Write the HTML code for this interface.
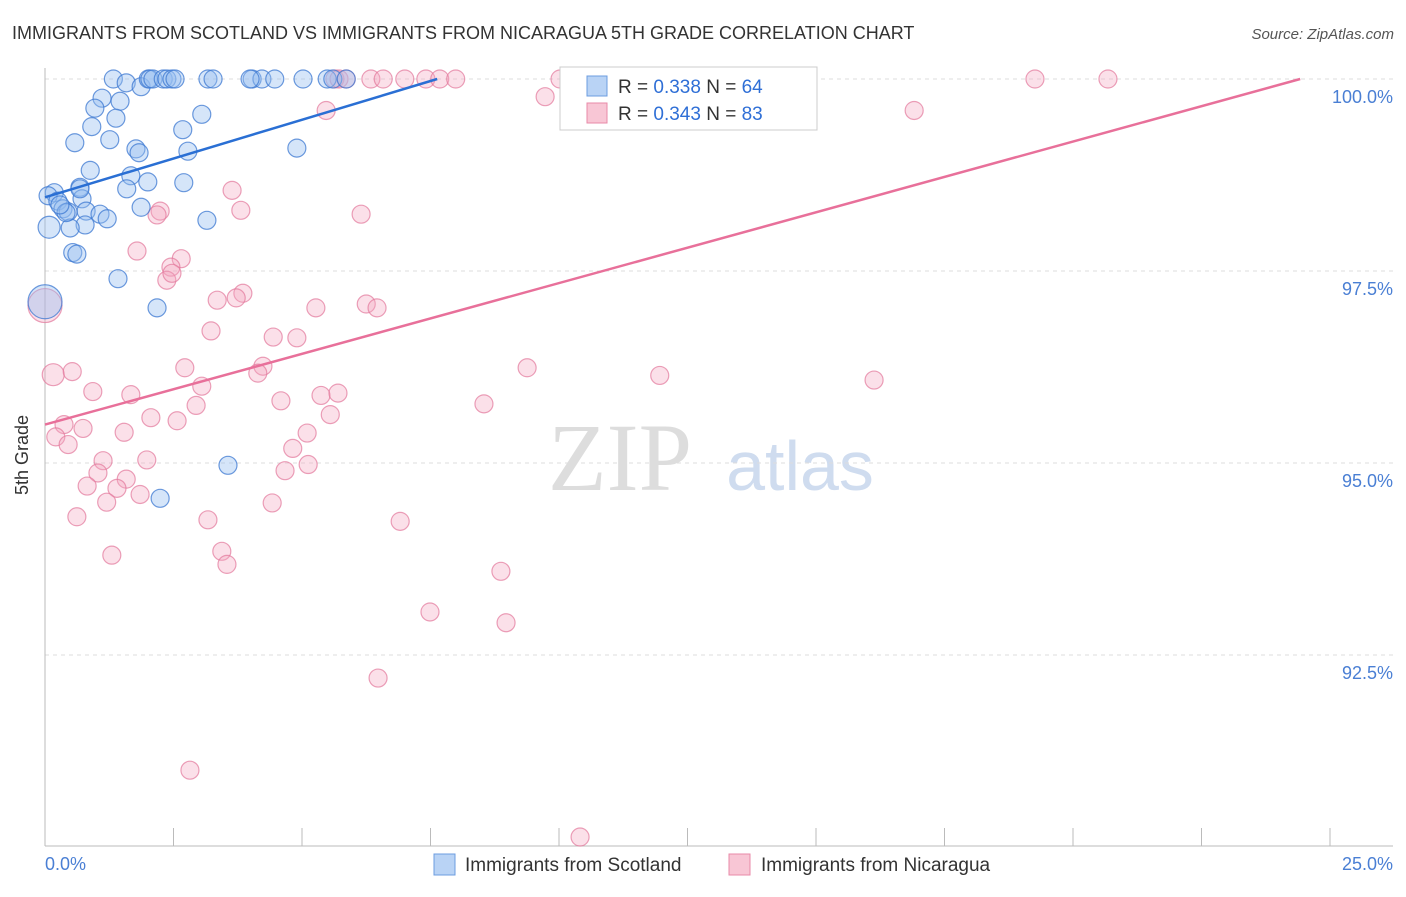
<!DOCTYPE html>
<html><head><meta charset="utf-8"><style>
body{margin:0;background:#fff;font-family:"Liberation Sans",sans-serif;}
</style></head><body>
<svg width="1406" height="892" viewBox="0 0 1406 892" xmlns="http://www.w3.org/2000/svg">
<text x="12" y="39" font-size="18" fill="#333">IMMIGRANTS FROM SCOTLAND VS IMMIGRANTS FROM NICARAGUA 5TH GRADE CORRELATION CHART</text>
<text x="1394" y="39" font-size="15" fill="#555" text-anchor="end" font-style="italic">Source: ZipAtlas.com</text>
<text x="620" y="490" font-size="96" fill="#ddd" font-family="Liberation Serif" text-anchor="middle">ZIP</text>
<text x="800" y="490" font-size="70" fill="#cfdcef" text-anchor="middle">atlas</text>
<g id="grid"></g>
<line x1="45" y1="68" x2="45" y2="846" stroke="#bbb"/>
<line x1="45" y1="846" x2="1393" y2="846" stroke="#bbb"/>
<text x="28" y="455" font-size="18" fill="#333" transform="rotate(-90 28 455)" text-anchor="middle">5th Grade</text>
<text x="45" y="870" font-size="18" fill="#4a7fd4">0.0%</text>
<text x="1393" y="870" font-size="18" fill="#4a7fd4" text-anchor="end">25.0%</text>
<g id="pts"></g>
<g id="lines"></g>
<g>
<rect x="560" y="67" width="257" height="63" fill="#fff" stroke="#ccc"/>
<rect x="587" y="76" width="20" height="20" fill="#b9d3f5" stroke="#6c9de0"/>
<text x="618" y="93" font-size="19" fill="#333">R = <tspan fill="#2f6fd6">0.338</tspan>   N = <tspan fill="#2f6fd6">64</tspan></text>
<rect x="587" y="103" width="20" height="20" fill="#f8c6d5" stroke="#e88aa8"/>
<text x="618" y="120" font-size="19" fill="#333">R = <tspan fill="#2f6fd6">0.343</tspan>   N = <tspan fill="#2f6fd6">83</tspan></text>
</g>
<g>
<rect x="434" y="854" width="21" height="21" fill="#b9d3f5" stroke="#6c9de0"/>
<text x="465" y="871" font-size="19" fill="#333">Immigrants from Scotland</text>
<rect x="729" y="854" width="21" height="21" fill="#f8c6d5" stroke="#e88aa8"/>
<text x="761" y="871" font-size="19" fill="#333">Immigrants from Nicaragua</text>
</g>
</svg>
<script>
const yTicks=[100,97.5,95,92.5];
const yTickLabels=["100.0%","97.5%","95.0%","92.5%"];
const xTicks=[0,2.5,5,7.5,10,12.5,15,17.5,20,22.5,25];
const scotX=[1.33,1.58,1.87,2.01,2.04,2.10,2.30,2.37,2.47,2.53,3.17,3.27,4.03,4.22,4.47,5.02,5.49,5.60,5.86,1.11,0.97,1.46,1.38,0.91,1.26,0.58,1.77,1.83,2.78,2.68,3.05,4.90,0.88,1.67,1.59,2.00,2.70,0.68,0.18,0.06,0.25,0.35,0.45,0.72,0.80,1.07,1.21,0.78,0.49,1.87,0.08,3.15,0.54,0.62,1.42,2.18,0.0,3.56,2.24,0.68,0.41,0.29,3.99,11.87];
const scotY=[100,99.95,99.9,100,100,100,100,100,100,100,100,100,100,100,100,100,100,100,100,99.75,99.62,99.71,99.49,99.38,99.21,99.17,99.09,99.04,99.06,99.34,99.54,99.1,98.81,98.74,98.57,98.66,98.65,98.59,98.52,98.48,98.41,98.31,98.27,98.44,98.28,98.24,98.18,98.1,98.06,98.33,98.07,98.16,97.74,97.72,97.4,97.02,97.1,94.97,94.54,98.57,98.26,98.36,100,100];
const scotR=[9,9,9,9,9,9,9,9,9,9,9,9,9,9,9,9,9,9,9,9,9,9,9,9,9,9,9,9,9,9,9,9,9,9,9,9,9,9,9,9,9,9,9,9,9,9,9,9,9,9,11,9,9,9,9,9,17,9,9,9,9,9,9,9];
const nicX=[5.64,5.72,5.86,6.34,6.58,7.0,7.41,7.68,7.99,10.02,19.26,20.68,9.73,5.47,16.91,3.64,3.81,2.24,2.18,6.15,1.79,2.65,2.45,2.37,2.47,3.85,3.35,3.72,5.27,6.25,6.46,3.23,4.44,4.9,0.0,0.16,0.53,2.72,4.24,4.14,9.38,11.96,16.13,3.05,0.93,1.67,4.59,5.37,5.7,8.54,2.94,2.06,2.57,5.55,0.37,0.74,1.54,0.21,0.45,5.1,4.82,1.13,1.98,1.03,5.12,4.67,1.58,0.82,1.4,1.85,1.2,4.42,0.62,3.17,6.91,1.3,3.44,3.54,8.87,7.49,8.97,6.48,2.82,10.41];
const nicY=[100,100,100,100,100,100,100,100,100,100,100,100,99.77,99.59,99.59,98.55,98.29,98.28,98.23,98.24,97.76,97.66,97.55,97.38,97.47,97.21,97.12,97.15,97.02,97.07,97.02,96.72,96.64,96.63,97.05,96.15,96.19,96.24,96.26,96.17,96.24,96.14,96.08,96.0,95.93,95.89,95.81,95.88,95.91,95.77,95.75,95.59,95.55,95.63,95.5,95.45,95.4,95.34,95.24,95.39,95.19,95.03,95.04,94.87,94.98,94.9,94.79,94.70,94.67,94.59,94.49,94.48,94.3,94.26,94.24,93.8,93.85,93.68,93.59,93.06,92.92,92.2,91.0,90.13];
const nicR=[9,9,9,9,9,9,9,9,9,9,9,9,9,9,9,9,9,9,9,9,9,9,9,9,9,9,9,9,9,9,9,9,9,9,17,11,9,9,9,9,9,9,9,9,9,9,9,9,9,9,9,9,9,9,9,9,9,9,9,9,9,9,9,9,9,9,9,9,9,9,9,9,9,9,9,9,9,9,9,9,9,9,9,9];
const scotTrend=[[0,98.46],[7.63,100]];
const nicTrend=[[0,95.5],[24.42,100]];
const NS="http://www.w3.org/2000/svg";
const xs=v=>45+v*51.4;
const ys=v=>79+(100-v)*76.8;
const grid=document.getElementById('grid');
yTicks.forEach((t,i)=>{
 const l=document.createElementNS(NS,'line');
 l.setAttribute('x1',45);l.setAttribute('x2',1393);l.setAttribute('y1',ys(t));l.setAttribute('y2',ys(t));
 l.setAttribute('stroke','#ddd');l.setAttribute('stroke-dasharray','4 4');
 
 
 grid.appendChild(l);
 const tx=document.createElementNS(NS,'text');
 tx.setAttribute('x',1393);tx.setAttribute('y',ys(t)+24);tx.setAttribute('text-anchor','end');
 tx.setAttribute('font-size','18');tx.setAttribute('fill','#4a7fd4');tx.textContent=yTickLabels[i];
 
 
 grid.appendChild(tx);
});
xTicks.forEach(t=>{
 const l=document.createElementNS(NS,'line');
 l.setAttribute('x1',xs(t));l.setAttribute('x2',xs(t));l.setAttribute('y1',828);l.setAttribute('y2',846);
 l.setAttribute('stroke','#bbb');
 
 
 grid.appendChild(l);
});
const pts=document.getElementById('pts');
function draw(X,Y,R,fill,stroke,name){
 X.forEach((x,i)=>{
  const c=document.createElementNS(NS,'circle');
  c.setAttribute('cx',xs(x));c.setAttribute('cy',ys(Y[i]));c.setAttribute('r',R[i]);
  c.setAttribute('fill',fill);c.setAttribute('stroke',stroke);c.setAttribute('stroke-width','1.2');
  
  
  pts.appendChild(c);
 });
}
draw(nicX,nicY,nicR,'rgba(244,166,192,0.35)','rgba(226,120,155,0.7)','point-nicaragua');
draw(scotX,scotY,scotR,'rgba(150,190,240,0.4)','rgba(60,120,210,0.75)','point-scotland');
const lines=document.getElementById('lines');
function tl(p,col,name){
 const l=document.createElementNS(NS,'line');
 l.setAttribute('x1',xs(p[0][0]));l.setAttribute('y1',ys(p[0][1]));
 l.setAttribute('x2',xs(p[1][0]));l.setAttribute('y2',ys(p[1][1]));
 l.setAttribute('stroke',col);l.setAttribute('stroke-width','2.5');
 
 
 lines.appendChild(l);
}
tl(nicTrend,'#e8709a','trendline-nicaragua');
tl(scotTrend,'#2a6fd4','trendline-scotland');
</script>
</body></html>
